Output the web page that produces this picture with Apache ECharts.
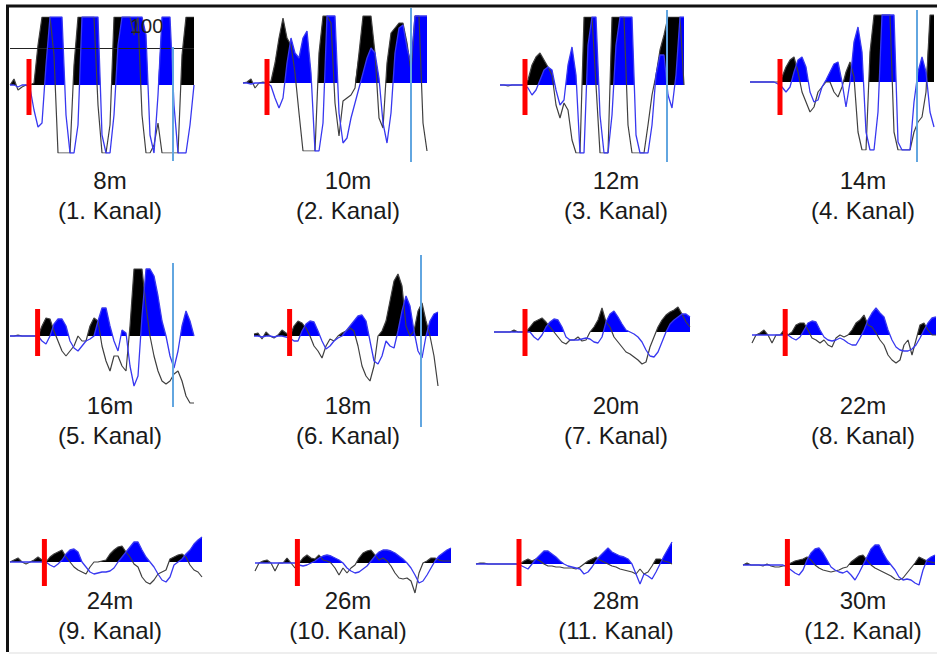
<!DOCTYPE html>
<html><head><meta charset="utf-8">
<script src="https://cdn.jsdelivr.net/npm/echarts@6/dist/echarts.min.js"></script>
<style>html,body{margin:0;padding:0;background:#fff}#c{width:937px;height:655px}</style>
</head><body><div id="c"></div>
<script>
// ---- data: distances / channel numbers ----
const distances = [8,10,12,14,16,18,20,22,24,26,28,30];
const channels  = [1,2,3,4,5,6,7,8,9,10,11,12];

// ---- trace samples (amplitude, clipped at +/-68), black = trace A, blue = trace B ----
const traceA1 = [0,6,-5,-2,0,0,2,40,68,68,68,30,-68,-68,-68,-68,20,68,68,68,68,68,-20,-68,-68,-40,68,68,68,68,68,50,68,-30,-68,-68,-60,-38,-68,-68,-68,-68,-68,30,68,68,68];
const traceB1 = [0,0,-2,0,0,-3,-25,-42,-38,20,68,68,68,68,-30,-68,-68,-40,68,68,68,68,68,-50,-68,-68,-30,40,68,68,68,68,68,68,50,-50,-68,-10,68,68,68,-20,-68,-68,-68,-40,0];
const traceA2 = [0,1,4,-5,0,1,0,2,20,45,65,45,38,10,-30,-68,-68,-68,-68,30,67,67,60,-20,-53,-18,-15,-12,-5,30,67,67,67,30,-35,-45,20,50,55,60,60,40,12,67,67,-40,-68];
const traceB2 = [0,0,-1,0,0,0,0,-3,-15,-25,-15,20,45,30,25,45,52,10,-68,-68,-40,67,67,67,-30,-60,-55,-35,-20,-5,10,25,35,30,5,-40,-60,-30,30,55,58,35,20,67,67,67,67];
const traceA3 = [0,0,-1,0,0,0,0,5,20,28,32,25,18,10,-20,-33,-18,-25,-55,-68,-68,68,68,68,0,-68,-68,-68,68,68,68,68,-40,-68,-68,-68,-68,-40,-10,10,35,50,68,68,68,68,0];
const traceB3 = [0,0,0,0,0,0,0,-3,-10,-5,5,15,18,15,-5,-20,-15,20,38,10,-68,-68,40,68,68,-30,-68,-68,-30,40,68,68,68,68,-50,-68,-68,-68,-40,10,30,30,-10,-23,10,68,68];
const traceA4 = [0,0,0,0,0,0,0,0,5,15,22,25,10,-10,-20,-30,-25,-10,-5,0,0,-10,-15,-5,10,20,5,-50,-68,-68,30,67,67,67,67,67,-50,-68,-68,-68,-68,-50,-40,-35,-10,67,67];
const traceB4 = [0,0,0,0,0,0,0,-2,-5,-10,-5,10,22,25,15,-10,-20,-18,-5,2,10,18,20,0,-25,0,40,55,30,-50,-68,-68,-30,67,67,67,67,-60,-68,-68,-68,-20,10,25,10,-30,-45];
const traceA5 = [0,0,1,0,0,0,0,0,10,18,17,5,-5,-15,-20,-15,-10,0,-5,-5,10,18,15,-10,-25,-35,-20,-20,-30,-35,10,67,67,67,30,0,-20,-35,-45,-48,-45,-38,-35,-45,-60,-67,-67];
const traceB5 = [0,0,0,0,0,0,0,0,-5,-8,0,12,17,17,10,-5,-12,-15,-10,-5,-3,0,15,28,28,10,-5,-15,6,3,-30,-50,-40,20,67,67,60,40,15,0,-20,-32,-15,10,25,15,0];
const traceA6 = [2,3,-3,4,0,-2,1,6,3,0,10,15,13,8,0,-10,-15,-22,-10,-3,-5,0,3,5,8,5,-10,-30,-40,-45,-30,0,5,15,35,55,62,50,10,0,5,25,33,15,0,-20,-50];
const traceB6 = [0,0,-1,0,0,-1,0,0,-1,-2,-5,-5,5,12,15,14,5,-5,-13,-10,-5,-2,0,5,10,15,20,21,15,-5,-25,-28,-20,-5,-10,-12,5,25,40,30,5,-15,-22,0,15,22,24];
const traceA7 = [0,0,0,0,0,2,0,0,0,5,10,12,14,10,5,0,-5,-10,-12,-8,-8,-5,-9,-8,0,5,12,24,10,5,-5,-10,-15,-20,-22,-25,-28,-32,-30,-15,-5,5,12,17,20,22,25,18,10,5];
const traceB7 = [0,0,0,0,0,0,0,0,0,0,-5,-8,-3,5,10,13,12,5,-5,-8,-8,-8,-7,-6,-7,-10,-11,-5,10,18,21,15,8,2,0,-2,-5,-10,-18,-24,-25,-20,-10,0,8,12,15,18,18,15];
const traceA8 = [-8,0,2,5,0,-8,0,0,5,0,3,10,12,12,5,-3,-5,-8,-5,-10,-12,-3,0,-2,0,5,12,15,20,10,8,2,-5,-10,-20,-25,-28,-25,-10,-5,-20,-5,10,12,5,0,0];
const traceB8 = [0,0,0,0,0,0,0,0,0,0,-3,-5,-2,5,12,14,13,5,-2,-5,-6,-5,-3,-5,-8,-10,-10,-3,5,15,22,27,22,18,5,-5,-12,-15,-16,-16,-14,-10,-3,5,12,17,18];
const traceA9 = [0,2,4,0,-2,0,2,5,2,0,5,8,10,12,5,0,-5,-8,-10,-12,-5,0,0,1,2,8,12,15,16,10,5,-2,-5,-15,-20,-22,-18,-12,-10,-8,3,5,7,8,5,-3,-8,-10,-15];
const traceB9 = [0,0,0,0,0,0,0,0,0,0,-3,-5,-2,2,8,12,13,10,0,-5,-10,-12,-11,-10,-10,-9,-6,0,5,10,15,20,20,12,5,0,-5,-12,-18,-20,-15,-3,0,3,8,12,18,22,25];
const traceA10 = [-8,0,2,3,0,-8,0,0,5,0,-5,0,5,8,5,4,8,3,2,0,-5,-12,-5,-10,-5,-2,5,10,12,13,8,3,5,2,-3,-10,-15,-16,-15,-18,-30,-10,0,2,5,5,3,2,2,2];
const traceB10 = [0,0,0,0,0,0,0,0,0,0,0,-2,-3,-2,0,2,5,7,8,7,5,3,0,-5,-8,-10,-9,-6,-3,2,7,11,13,13,12,10,7,4,0,-5,-12,-20,-18,-12,-5,2,7,10,13,15];
const traceA11 = [0,1,1,0,0,0,0,0,0,0,0,0,3,5,3,5,3,0,-2,-2,-3,-3,-4,-4,-4,-5,-3,0,3,5,7,4,2,0,-2,-3,-5,-6,-7,-8,-10,-5,-10,-8,-2,5,5,3,2,0];
const traceB11 = [0,0,0,0,0,0,0,0,0,0,0,-1,-3,-5,0,5,9,13,13,10,7,3,0,-2,-3,-4,-5,-10,-8,-3,3,8,12,16,12,10,8,7,5,0,-10,-20,-10,-12,-15,-8,0,8,15,22];
const traceA12 = [0,2,0,0,0,-1,1,-1,-2,-2,-1,0,2,4,5,6,8,5,0,-3,-5,-6,-7,-6,-5,-3,-2,3,6,9,10,5,0,-3,-5,-7,-9,-11,-14,-15,-13,-8,-3,2,8,6,4,3,2];
const traceB12 = [0,0,0,0,0,0,0,0,0,0,0,-2,-5,-8,-10,-5,5,12,16,17,12,5,-2,-5,-7,-8,-6,-10,-15,-8,0,8,16,20,20,12,5,0,-5,-12,-15,-14,-15,-18,-20,-5,5,8,10];

// trigger sample (red bar) and its extent
const triggerT  = [4.75,6,6.25,7.5,6.9,8.9,7.75,8.3,8.6,10.6,10.75,11.1];
const triggerHi = [26,24,26,23,27,27,23,26,23,24,25,26];
const triggerLo = [-30,-32,-30,-33,-20,-20,-24,-21,-24,-23,-22,-21];
// cursor sample (light blue line), panels 1-6
const cursorT   = [40.75,42,41.75,41.75,40.75,41.75];
const cursorHi  = [38,75,75,72,73,81];
const cursorLo  = [-76,-79,-77,-80,-71,-91];
// reference level in panel 1
const refLevel = 37;
const refLabel = '100';

// ---- layout (pixels) ----
const STEP = 4;
const startX = [10,243,500,750,10,254,494,752,10,255,476,743];
const baseY  = [85,83,85,82,336,336,332,335,562,563,564,565];
const labelX = [110,348,616,863];
const labelTop = [165,390,585];
const AMP = 68;

const A = [traceA1,traceA2,traceA3,traceA4,traceA5,traceA6,traceA7,traceA8,traceA9,traceA10,traceA11,traceA12];
const B = [traceB1,traceB2,traceB3,traceB4,traceB5,traceB6,traceB7,traceB8,traceB9,traceB10,traceB11,traceB12];

function pairs(v){ return v.map((y,i)=>[i,y]); }
function posFill(v){
  const out=[];
  for(let i=0;i<v.length;i++){
    if(i>0){const u=v[i-1], w=v[i]; if((u>0&&w<0)||(u<0&&w>0)) out.push([(i-1)+u/(u-w),0]);}
    out.push([i,Math.max(0,v[i])]);
  }
  return out;
}

const grid=[], xAxis=[], yAxis=[], series=[], title=[];
const base = {type:'line', showSymbol:false, silent:true, animation:false};
for(let k=0;k<12;k++){
  const n = A[k].length;
  grid.push({left:startX[k], top:baseY[k]-AMP, width:(n-1)*STEP, height:2*AMP});
  xAxis.push({type:'value', gridIndex:k, min:0, max:n-1, show:false});
  yAxis.push({type:'value', gridIndex:k, min:-AMP, max:AMP, show:false});
  series.push(Object.assign({}, base, {xAxisIndex:k, yAxisIndex:k, z:2, data:posFill(A[k]),
    lineStyle:{opacity:0}, areaStyle:{color:'#000000', opacity:1}}));
  series.push(Object.assign({}, base, {xAxisIndex:k, yAxisIndex:k, z:3, data:posFill(B[k]),
    lineStyle:{opacity:0}, areaStyle:{color:'#0000ff', opacity:1}}));
  series.push(Object.assign({}, base, {xAxisIndex:k, yAxisIndex:k, z:4, data:pairs(A[k]),
    lineStyle:{color:'#404040', width:1.2}}));
  const blueLine = Object.assign({}, base, {xAxisIndex:k, yAxisIndex:k, z:5, data:pairs(B[k]),
    lineStyle:{color:'#3838f0', width:1.3}});
  if(k===0){
    blueLine.markLine = {silent:true, symbol:'none', animation:false, label:{show:false},
      lineStyle:{color:'#222', width:1, type:'solid'}, data:[{yAxis:refLevel}]};
  }
  series.push(blueLine);
  series.push(Object.assign({}, base, {xAxisIndex:k, yAxisIndex:k, z:6, clip:false,
    data:[[triggerT[k],triggerHi[k]],[triggerT[k],triggerLo[k]]],
    lineStyle:{color:'#ff0000', width:5, cap:'butt'}}));
  if(k<cursorT.length){
    series.push(Object.assign({}, base, {xAxisIndex:k, yAxisIndex:k, z:7, clip:false,
      data:[[cursorT[k],cursorHi[k]],[cursorT[k],cursorLo[k]]],
      lineStyle:{color:'#62a6e0', width:2}}));
  }
  title.push({text: distances[k]+'m\n('+channels[k]+'. Kanal)',
    left: labelX[k%4], top: labelTop[Math.floor(k/4)], textAlign:'center', textVerticalAlign:'top', padding:0,
    textStyle:{fontFamily:'Liberation Sans, Arial, sans-serif', fontSize:24, fontWeight:'normal', color:'#1a1a1a', lineHeight:30}});
}

const chart = echarts.init(document.getElementById('c'), null, {renderer:'svg'});
chart.setOption({
  animation:false,
  backgroundColor:'#ffffff',
  title, grid, xAxis, yAxis, series,
  graphic:[
    {type:'line', z:100, shape:{x1:6, y1:6, x2:937, y2:6}, style:{stroke:'#111', lineWidth:3}},
    {type:'line', z:100, shape:{x1:7.5, y1:5, x2:7.5, y2:652}, style:{stroke:'#111', lineWidth:3}},
    {type:'line', z:100, shape:{x1:9, y1:653, x2:937, y2:653}, style:{stroke:'#dddddd', lineWidth:1}},
    {type:'text', z:100, x:130, y:16, style:{text:refLabel, fill:'#222', font:'20px "Liberation Sans", Arial, sans-serif'}}
  ]
});
</script>
</body></html>
